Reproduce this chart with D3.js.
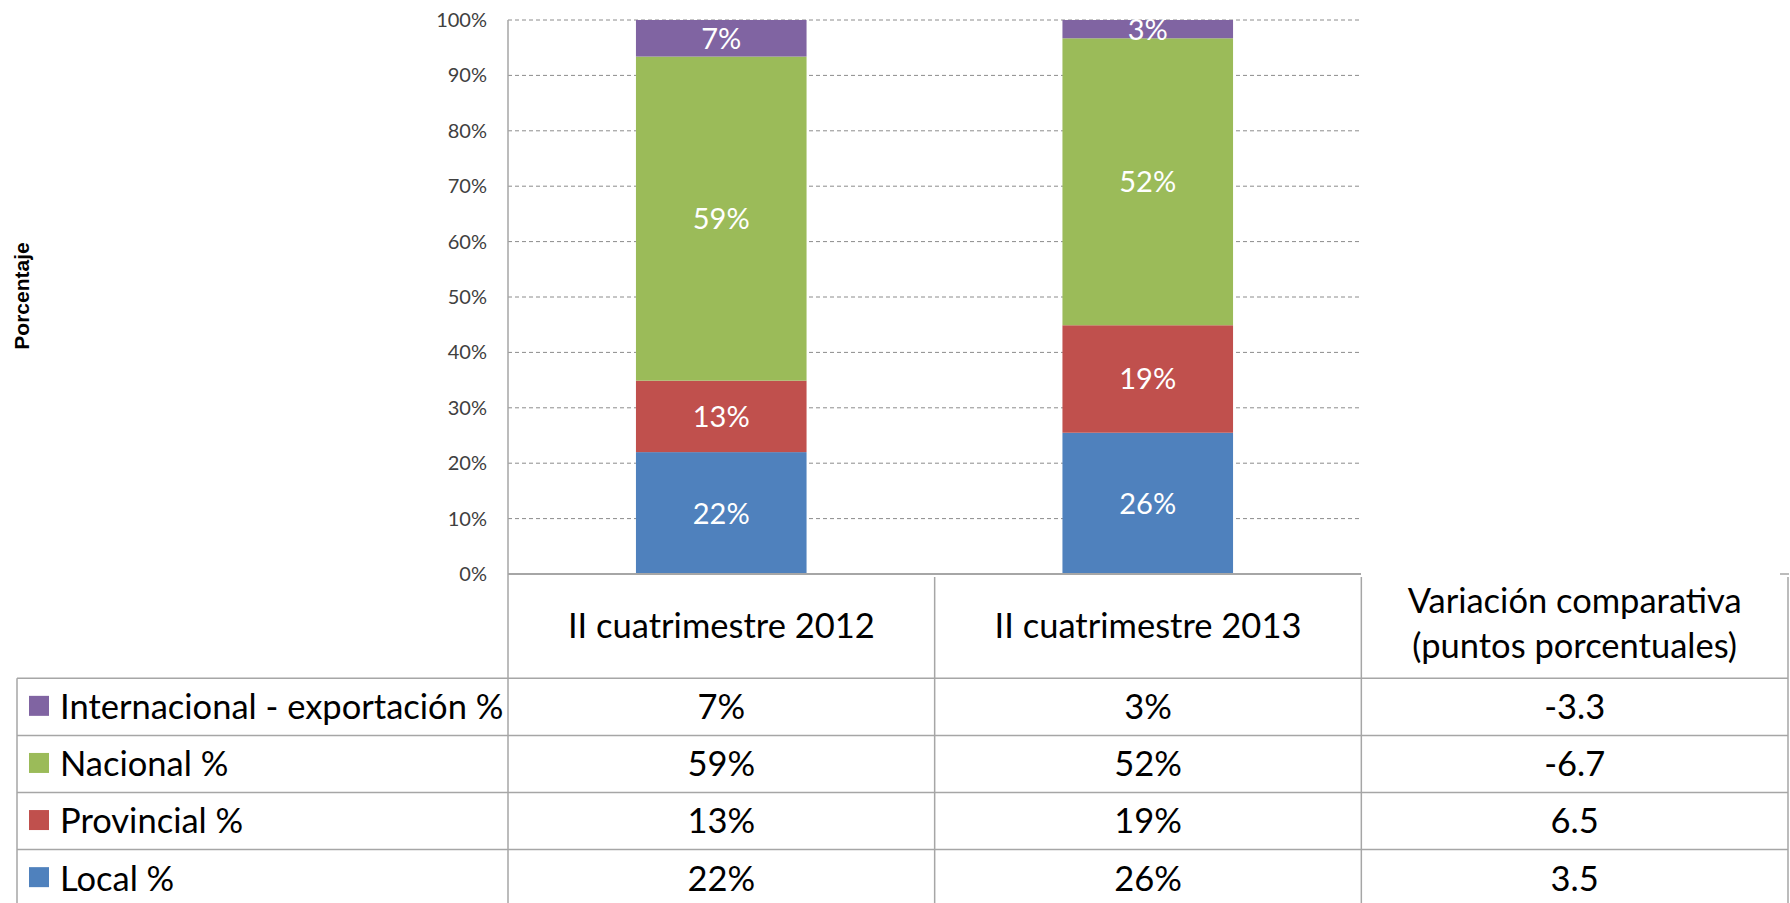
<!DOCTYPE html>
<html>
<head>
<meta charset="utf-8">
<script src="https://cdn.jsdelivr.net/npm/d3@7"></script>
<style>
  body { margin: 0; background: #fff; }
  svg { display: block; font-family: Lato, 'Open Sans', sans-serif; }
</style>
</head>
<body>
<svg id="chart"></svg>
<script>
// values (percent of total)
const categories = ['II cuatrimestre 2012', 'II cuatrimestre 2013']
const series = ['Local %', 'Provincial %', 'Nacional %', 'Internacional - exportación %']
const local = [22.0, 25.5]
const provincial = [12.9, 19.4]
const nacional = [58.5, 51.8]
const internacional = [6.6, 3.3]
const variacion = [3.5, 6.5, -6.7, -3.3] // same order as series
const colors = ['#4F81BD', '#C0504D', '#9BBB59', '#8064A2']
const yTicks = [0, 10, 20, 30, 40, 50, 60, 70, 80, 90, 100]
const variacionHeader = ['Variación comparativa', '(puntos porcentuales)']

const width = 1790
const height = 903

const rows = categories.map((c, i) => ({
    cat: c,
    'Local %': local[i],
    'Provincial %': provincial[i],
    'Nacional %': nacional[i],
    'Internacional - exportación %': internacional[i]
}))

const svg = d3.select('#chart')
    .attr('width', width)
    .attr('height', height)

const plotLeft = 508
const plotRight = 1361
const plotTop = 20
const plotBottom = 574

const x = d3.scaleBand()
    .domain(categories)
    .range([plotLeft, plotRight])
    .paddingInner(0.6)
    .paddingOuter(0.3)

const y = d3.scaleLinear()
    .domain([0, 100])
    .range([plotBottom, plotTop])

const color = d3.scaleOrdinal().domain(series).range(colors)

// dashed gridlines
svg.append('g')
    .selectAll('line')
    .data(yTicks.filter(d => d > 0))
    .join('line')
    .attr('x1', plotLeft)
    .attr('x2', plotRight)
    .attr('y1', d => y(d))
    .attr('y2', d => y(d))
    .attr('stroke', '#8c8c8c')
    .attr('stroke-width', 1)
    .attr('stroke-dasharray', '4,3')

// y axis labels
const yAxis = svg.append('g')
    .attr('transform', `translate(${plotLeft},0)`)
    .call(d3.axisLeft(y).tickValues(yTicks).tickFormat(d => d + '%').tickSize(0).tickPadding(21))
yAxis.select('.domain').remove()
yAxis.selectAll('text')
    .attr('font-family', 'Lato, sans-serif')
    .attr('font-size', 20)
    .attr('fill', '#404040')

svg.append('text')
    .attr('transform', 'translate(29,296) rotate(-90)')
    .attr('text-anchor', 'middle')
    .attr('font-family', '"Liberation Sans", Arial, sans-serif')
    .attr('font-weight', 'bold')
    .attr('font-size', 21)
    .attr('fill', '#000')
    .text('Porcentaje')

// stacked bars
const stacked = d3.stack().keys(series)(rows)

const layer = svg.append('g')
    .selectAll('g')
    .data(stacked)
    .join('g')
    .attr('fill', d => color(d.key))

layer.selectAll('rect')
    .data(d => d)
    .join('rect')
    .attr('x', d => x(d.data.cat))
    .attr('width', x.bandwidth())
    .attr('y', d => y(d[1]))
    .attr('height', d => y(d[0]) - y(d[1]))

layer.selectAll('text')
    .data(d => d.map(v => Object.assign({ key: d.key }, v)))
    .join('text')
    .attr('x', d => x(d.data.cat) + x.bandwidth() / 2)
    .attr('y', d => (y(d[0]) + y(d[1])) / 2)
    .attr('dy', '0.36em')
    .attr('text-anchor', 'middle')
    .attr('fill', '#fff')
    .attr('font-size', 29)
    .text(d => Math.round(d[1] - d[0]) + '%')

// data table below the chart
const tableX = d3.scaleBand()
    .domain([...categories, 'variacion'])
    .range([plotLeft, 1788])

const tableLeft = 17
const tableRight = 1788
const headerBottom = 678.3
const rowH = 57.1
const borderColor = '#a6a6a6'

const legendRows = series.slice().reverse()
const t = svg.append('g')

// horizontal rules
t.selectAll('line.h')
    .data(d3.range(legendRows.length + 1))
    .join('line')
    .attr('class', 'h')
    .attr('x1', tableLeft)
    .attr('x2', tableRight)
    .attr('y1', i => headerBottom + i * rowH)
    .attr('y2', i => headerBottom + i * rowH)
    .attr('stroke', borderColor)
    .attr('stroke-width', 1.5)

// vertical rules
t.append('line')
    .attr('x1', tableLeft).attr('x2', tableLeft)
    .attr('y1', headerBottom).attr('y2', height)
    .attr('stroke', borderColor).attr('stroke-width', 1.5)

t.selectAll('line.v')
    .data(tableX.domain().slice(1))
    .join('line')
    .attr('class', 'v')
    .attr('x1', d => tableX(d))
    .attr('x2', d => tableX(d))
    .attr('y1', plotBottom + 3)
    .attr('y2', height)
    .attr('stroke', borderColor)
    .attr('stroke-width', 1.5)

t.append('line')
    .attr('x1', tableRight).attr('x2', tableRight)
    .attr('y1', plotBottom + 3).attr('y2', height)
    .attr('stroke', borderColor).attr('stroke-width', 1.5)
t.append('line')
    .attr('x1', tableRight - 8).attr('x2', tableRight + 1)
    .attr('y1', plotBottom).attr('y2', plotBottom)
    .attr('stroke', borderColor).attr('stroke-width', 1.5)

// axis lines (value axis runs down through the table)
svg.append('line')
    .attr('x1', plotLeft).attr('x2', plotLeft)
    .attr('y1', plotTop).attr('y2', height)
    .attr('stroke', borderColor).attr('stroke-width', 1.5)
svg.append('line')
    .attr('x1', plotLeft).attr('x2', plotRight)
    .attr('y1', plotBottom).attr('y2', plotBottom)
    .attr('stroke', borderColor).attr('stroke-width', 2)

const fs = 34.5

// header
t.selectAll('text.head')
    .data(categories)
    .join('text')
    .attr('class', 'head')
    .attr('x', d => tableX(d) + tableX.bandwidth() / 2)
    .attr('y', 638)
    .attr('text-anchor', 'middle')
    .attr('font-size', fs)
    .attr('fill', '#000')
    .text(d => d)

t.selectAll('text.varhead')
    .data(variacionHeader)
    .join('text')
    .attr('class', 'varhead')
    .attr('x', tableX('variacion') + tableX.bandwidth() / 2)
    .attr('y', (d, i) => 613 + i * 45)
    .attr('text-anchor', 'middle')
    .attr('font-size', fs)
    .attr('fill', '#000')
    .text(d => d)

// body rows
const body = t.selectAll('g.row')
    .data(legendRows)
    .join('g')
    .attr('class', 'row')
    .attr('transform', (d, i) => `translate(0,${headerBottom + i * rowH})`)

body.append('rect')
    .attr('x', 29)
    .attr('y', rowH / 2 - 11)
    .attr('width', 20)
    .attr('height', 20)
    .attr('fill', d => color(d))

body.append('text')
    .attr('x', 60)
    .attr('y', rowH / 2)
    .attr('dy', '0.36em')
    .attr('font-size', fs)
    .attr('fill', '#000')
    .text(d => d)

body.each(function (key) {
    const g = d3.select(this)
    const si = series.indexOf(key)
    rows.forEach(r => {
        g.append('text')
            .attr('x', tableX(r.cat) + tableX.bandwidth() / 2)
            .attr('y', rowH / 2)
            .attr('dy', '0.36em')
            .attr('text-anchor', 'middle')
            .attr('font-size', fs)
            .attr('fill', '#000')
            .text(Math.round(r[key]) + '%')
    })
    g.append('text')
        .attr('x', tableX('variacion') + tableX.bandwidth() / 2)
        .attr('y', rowH / 2)
        .attr('dy', '0.36em')
        .attr('text-anchor', 'middle')
        .attr('font-size', fs)
        .attr('fill', '#000')
        .text(variacion[si].toFixed(1))
})
</script>
</body>
</html>
